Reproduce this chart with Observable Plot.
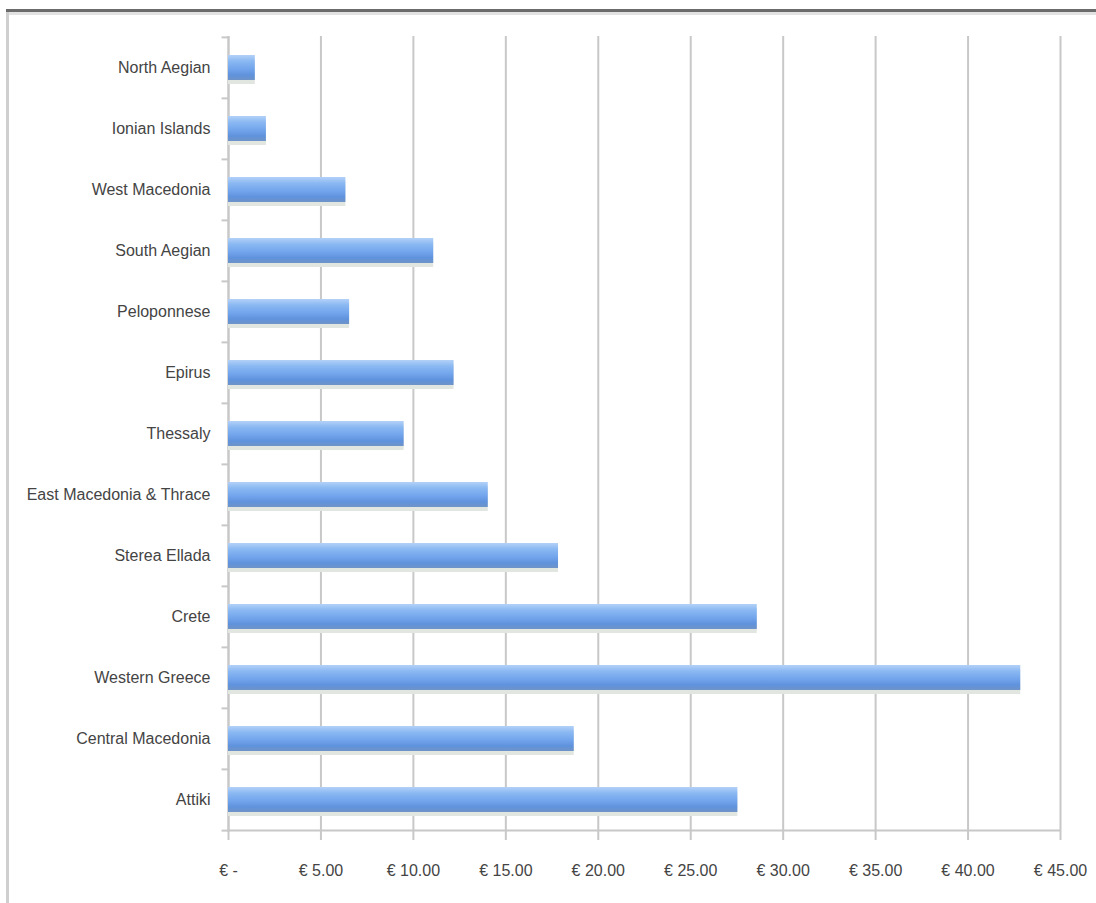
<!DOCTYPE html>
<html>
<head>
<meta charset="utf-8">
<script src="https://cdn.jsdelivr.net/npm/d3@7"></script>
<script src="https://cdn.jsdelivr.net/npm/@observablehq/plot@0.6"></script>
<style>
  html, body { margin: 0; padding: 0; background: #fff; }
  #wrap { position: relative; width: 1096px; height: 903px; overflow: hidden; }
  #frameTop { position: absolute; left: 6px; top: 9px; width: 1090px; height: 3px; background: #6b6b6b; }
  #frameTop2 { position: absolute; left: 6px; top: 12px; width: 1090px; height: 3px; background: #e2e2e2; }
  #frameLeft { position: absolute; left: 6px; top: 12px; width: 3px; height: 891px; background: #cfcfcf; }
  #chart { position: absolute; left: 0; top: 0; }
  svg text { font-family: "Liberation Sans", Arial, sans-serif; }
</style>
</head>
<body>
<div id="wrap">
  <div id="chart"></div>
  <div id="frameTop"></div>
  <div id="frameTop2"></div>
  <div id="frameLeft"></div>
</div>
<script>
const regions = ["North Aegian", "Ionian Islands", "West Macedonia", "South Aegian", "Peloponnese", "Epirus", "Thessaly", "East Macedonia & Thrace", "Sterea Ellada", "Crete", "Western Greece", "Central Macedonia", "Attiki"];
const values = [1.45, 2.05, 6.35, 11.1, 6.55, 12.2, 9.5, 14.05, 17.85, 28.6, 42.85, 18.7, 27.55];
const xTicks = [0, 5, 10, 15, 20, 25, 30, 35, 40, 45];

const data = regions.map((r, i) => ({region: r, value: values[i]}));

const W = 1096, H = 903;
const mTop = 36, mBottom = 71, mLeft = 228, mRight = 36;
const step = (H - mTop - mBottom) / regions.length;

const fmt = d => d === 0 ? "€ -" : "€ " + d.toFixed(2);

const plot = Plot.plot({
  width: W,
  height: H,
  marginTop: mTop,
  marginBottom: mBottom,
  marginLeft: mLeft,
  marginRight: mRight,
  style: {background: "transparent", fontSize: "16px", color: "#444"},
  x: {domain: [0, 45], ticks: xTicks, label: null},
  y: {domain: regions, paddingInner: 0.59, paddingOuter: 0.295, align: 0.5, label: null},
  marks: [
    Plot.gridX(xTicks, {stroke: "#c8c8c8", strokeOpacity: 1, strokeWidth: 2}),
    Plot.ruleX([0], {stroke: "#c8c8c8", strokeWidth: 2}),
    Plot.ruleY([regions[regions.length - 1]], {y: d => d, x1: 0, x2: 45, dy: step / 2, stroke: "#c8c8c8", strokeWidth: 2}),
    Plot.ruleY(regions, {y: d => d, x1: -0.35, x2: 0, dy: -step / 2, stroke: "#c8c8c8", strokeWidth: 2}),
    Plot.ruleY([regions[regions.length - 1]], {y: d => d, x1: -0.35, x2: 0, dy: step / 2, stroke: "#c8c8c8", strokeWidth: 2}),
    Plot.barX(data, {y: "region", x: "value", fill: "#e2e6e0", dy: 4}),
    Plot.barX(data, {y: "region", x: "value", fill: "url(#barGrad)"}),
    Plot.axisX(xTicks, {tickFormat: fmt, tickSize: 8, tickPadding: 24, stroke: "#c8c8c8", strokeWidth: 2, fill: "#444", fontSize: 16, label: null}),
    Plot.axisY({tickSize: 0, tickPadding: 18, fill: "#444", fontSize: 16, label: null})
  ]
});

const defs = d3.create("svg:defs");
const g = defs.append("linearGradient").attr("id", "barGrad").attr("x1", 0).attr("y1", 0).attr("x2", 0).attr("y2", 1);
[["0%", "#b3d1f8"], ["25%", "#8ab8f2"], ["55%", "#72a5ec"], ["80%", "#5f92dc"], ["100%", "#6f94c8"]].forEach(([o, c]) => {
  g.append("stop").attr("offset", o).attr("stop-color", c);
});
plot.insertBefore(defs.node(), plot.firstChild);

document.getElementById("chart").appendChild(plot);
</script>
</body>
</html>
